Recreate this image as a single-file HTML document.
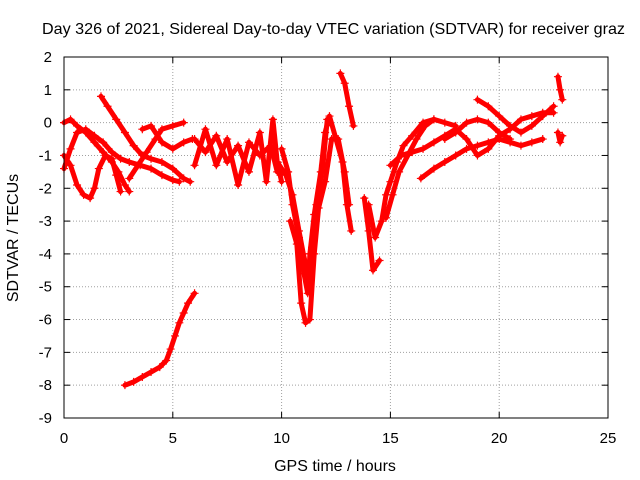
<!DOCTYPE html>
<html><head><meta charset="utf-8"><style>
html,body{margin:0;padding:0;background:#fff;}
svg{display:block;font-family:"Liberation Sans",sans-serif;}
</style></head><body>
<svg id="chart" width="640" height="480" viewBox="0 0 640 480">
<rect x="0" y="0" width="640" height="480" fill="#fff"/>
<text x="42" y="34" textLength="583" lengthAdjust="spacingAndGlyphs" font-size="16">Day 326 of 2021, Sidereal Day-to-day VTEC variation (SDTVAR) for receiver graz</text>
<text x="335" y="471" text-anchor="middle" font-size="16">GPS time / hours</text>
<text x="0" y="0" transform="translate(18,238) rotate(-90)" text-anchor="middle" font-size="16">SDTVAR / TECUs</text>
<g id="grid"></g>
<g id="ticks"></g>
<g id="series"></g>
<rect x="64" y="57" width="544" height="361" fill="none" stroke="#000" stroke-width="1"/>
</svg>
<script>
const xTicks=[0,5,10,15,20,25];
const yTicks=[2,1,0,-1,-2,-3,-4,-5,-6,-7,-8,-9];
const track1=[[2.8,-8],[3.2,-7.9],[3.6,-7.75],[4,-7.6],[4.4,-7.45],[4.7,-7.25],[4.9,-6.9],[5.1,-6.5],[5.3,-6.1],[5.5,-5.8],[5.7,-5.5],[6,-5.2]];
const track2=[[0,-1.4],[0.3,-0.8],[0.6,-0.3],[1,-0.2],[1.4,-0.4],[1.8,-0.6],[2.2,-0.9],[2.6,-1.1],[3,-1.2],[3.5,-1.3],[4,-1.4],[4.5,-1.6],[5,-1.75],[5.3,-1.8]];
const track3=[[0,-1.0],[0.3,-1.3],[0.6,-1.9],[0.9,-2.2],[1.2,-2.3],[1.4,-2.0],[1.6,-1.4],[1.9,-1.0],[2.2,-1.1],[2.4,-1.6],[2.6,-2.1]];
const track4=[[1.7,0.8],[2,0.5],[2.4,0.1],[2.8,-0.3],[3.2,-0.7],[3.6,-1.0],[4,-1.1],[4.5,-1.2],[5,-1.4],[5.5,-1.7],[5.8,-1.8]];
const track5=[[0,0],[0.3,0.1],[0.6,-0.1],[1,-0.3],[1.4,-0.6],[1.8,-0.9],[2.2,-1.2],[2.5,-1.5],[2.8,-1.9],[3,-2.1]];
const track6=[[3,-1.7],[3.4,-1.3],[3.8,-0.9],[4.2,-0.5],[4.5,-0.2],[5,-0.1],[5.5,0]];
const track7=[[3.6,-0.2],[4,-0.1],[4.5,-0.6],[5,-0.8],[5.5,-0.6],[5.9,-0.5]];
const track8=[[6,-0.5],[6.5,-0.9],[7,-0.4],[7.5,-1.2],[8,-0.7],[8.5,-1.5],[9,-0.3],[9.3,-1.8],[9.6,0.1],[9.8,-1.2],[10,-1.8]];
const track9=[[6,-1.3],[6.5,-0.2],[7,-1.3],[7.5,-0.5],[8,-1.9],[8.5,-0.6],[9,-1.0],[9.5,-0.7],[9.8,-1.5]];
const track10=[[10,-0.8],[10.3,-1.5],[10.5,-2.5],[10.8,-3.5],[11,-4.5],[11.2,-5.2],[11.3,-4],[11.5,-2.8],[11.8,-1.5],[12,-0.3],[12.2,0.2],[12.5,-0.5],[12.8,-1.2],[13,-2.5],[13.2,-3.3]];
const track11=[[10.4,-3.0],[10.7,-3.7],[10.9,-5.5],[11.1,-6.1],[11.3,-6.0],[11.5,-4],[11.7,-2.6],[12,-1.8],[12.3,-0.5],[12.6,-0.5],[12.9,-1.5],[13.1,-2.5]];
const track12=[[9.8,-1.2],[10.2,-1.6],[10.5,-2.2],[10.8,-3.3],[11,-4],[11.2,-4.6],[11.4,-3.8],[11.6,-2.5],[11.9,-1.3],[12.1,0.1]];
const track13=[[12.7,1.5],[12.9,1.2],[13.1,0.5],[13.3,-0.1]];
const track14=[[13.8,-2.3],[14,-3.3],[14.2,-4.5],[14.5,-4.2]];
const track15=[[14,-2.5],[14.3,-3.5],[14.6,-3.0],[14.8,-2.2],[15,-1.8],[15.3,-1.2],[15.6,-0.7],[16,-0.4],[16.5,0],[17,0.1],[17.5,0],[18,-0.1]];
const track16=[[14.8,-2.9],[15.1,-2.2],[15.4,-1.5],[15.8,-1.0],[16.2,-0.5],[16.6,-0.1],[17,0.1]];
const track17=[[15,-1.3],[15.5,-1.0],[16,-0.9],[16.5,-0.8],[17,-0.6],[17.5,-0.4],[18,-0.2],[18.5,-0.5],[19,-1.0],[19.5,-0.8],[20,-0.4],[20.5,-0.2],[21,0.1],[21.5,0.2],[22,0.3],[22.5,0.3]];
const track18=[[16.4,-1.7],[17,-1.4],[17.5,-1.2],[18,-1.0],[18.5,-0.8],[19,-0.7],[19.5,-0.6],[20,-0.5],[20.5,-0.6],[21,-0.7],[21.5,-0.6],[22,-0.5]];
const track19=[[19,0.7],[19.5,0.5],[20,0.2],[20.5,-0.1],[21,-0.3],[21.5,-0.1],[22,0.2],[22.5,0.5]];
const track20=[[17.5,-0.5],[18,-0.3],[18.5,0],[19,0.1],[19.5,0],[20,-0.3],[20.5,-0.5]];
const track21=[[22.7,1.4],[22.8,1.0],[22.9,0.7]];
const track22=[[22.7,-0.3],[22.8,-0.6],[22.9,-0.4]];
const tracks=[track1,track2,track3,track4,track5,track6,track7,track8,track9,track10,track11,track12,track13,track14,track15,track16,track17,track18,track19,track20,track21,track22];

const NS='http://www.w3.org/2000/svg';
const X0=64,X1=608,Y0=418,Y1=57,XMIN=0,XMAX=25,YMIN=-9,YMAX=2;
function sx(v){return X0+(v-XMIN)/(XMAX-XMIN)*(X1-X0);}
function sy(v){return Y0-(v-YMIN)/(YMAX-YMIN)*(Y0-Y1);}
function mk(tag,attrs,parent){const e=document.createElementNS(NS,tag);for(const k in attrs)e.setAttribute(k,attrs[k]);parent.appendChild(e);return e;}
const grid=document.getElementById('grid'),ticks=document.getElementById('ticks'),series=document.getElementById('series');
xTicks.forEach(t=>{
  const x=sx(t);
  if(t>XMIN&&t<XMAX){const g=mk('line',{x1:x,x2:x,y1:Y0,y2:Y1,stroke:'#a0a0a0','stroke-dasharray':'1,2'},grid);
  
  }
  mk('line',{x1:x,x2:x,y1:Y0,y2:Y0-6,stroke:'#000'},ticks);
  mk('line',{x1:x,x2:x,y1:Y1,y2:Y1+6,stroke:'#000'},ticks);
  const l=mk('text',{x:x,y:Y0+25,'text-anchor':'middle','font-size':'15'},ticks);
  l.textContent=t;
  
  
});
yTicks.forEach(t=>{
  const y=sy(t);
  if(t>YMIN&&t<YMAX){const g=mk('line',{x1:X0,x2:X1,y1:y,y2:y,stroke:'#a0a0a0','stroke-dasharray':'1,2'},grid);
  
  }
  mk('line',{x1:X0,x2:X0+6,y1:y,y2:y,stroke:'#000'},ticks);
  mk('line',{x1:X1,x2:X1-6,y1:y,y2:y,stroke:'#000'},ticks);
  const l=mk('text',{x:X0-12,y:y+5,'text-anchor':'end','font-size':'15'},ticks);
  l.textContent=t;
  
  
});
tracks.forEach((tr,i)=>{
  const pl=mk('polyline',{points:tr.map(p=>sx(p[0])+','+sy(p[1])).join(' '),fill:'none',stroke:'#f00','stroke-width':'5','stroke-linejoin':'round','stroke-linecap':'round'},series);
  
  
  tr.forEach(p=>{
    const x=sx(p[0]),y=sy(p[1]);
    const m=mk('path',{d:`M${x-4},${y}H${x+4}M${x},${y-4}V${y+4}`,stroke:'#f00','stroke-width':'1.2'},series);
    
    
  });
});
</script>
</body></html>
